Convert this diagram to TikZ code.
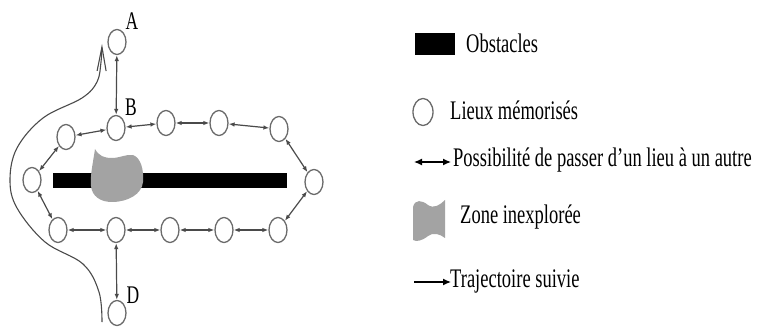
\documentclass[tikz,border=0pt]{standalone}
\usepackage{fontspec}
\setmainfont{Liberation Serif}
\usetikzlibrary{shapes.geometric,arrows.meta}
\newcommand{\vstretch}[1]{\scalebox{1}[1.45]{#1}}
\definecolor{nodegray}{HTML}{6A6A6A}
\definecolor{linegray}{HTML}{4A4A4A}
\definecolor{blobgray}{HTML}{A3A3A3}
\tikzset{
  place/.style={ellipse,draw=nodegray,line width=1.3pt,fill=white,minimum width=18pt,minimum height=25pt,inner sep=0pt},
  link/.style={draw=linegray,line width=1.2pt,{Latex[length=6pt,width=4.5pt]}-{Latex[length=6pt,width=4.5pt]}},
  lbl/.style={font=\fontsize{17.5}{19}\selectfont,text=black,inner sep=0pt},
  legtext/.style={font=\fontsize{18.5}{20}\selectfont,text=black,inner sep=0pt,anchor=west},
  traj/.style={draw=linegray,line width=1.1pt,-{Straight Barb[length=24pt,width=9pt,line width=1.1pt]}}
}
\begin{document}
\begin{tikzpicture}[x=1pt,y=-1pt]
\useasboundingbox (0,0) rectangle (758,331);
% obstacle and unexplored zone
\fill[black] (53,173) rectangle (287,188);
\fill[blobgray] (95,149) .. controls (99,156) and (104,158) .. (112,158)
  .. controls (120,158) and (126,154) .. (133,155)
  .. controls (141,158) and (144,170) .. (143,182)
  .. controls (142,194) and (128,202) .. (112,202)
  .. controls (100,202) and (92,196) .. (91,186)
  .. controls (90,175) and (93,163) .. (95,149) -- cycle;
% places
\node[place] (A) at (117,42) {};
\node[place] (B) at (116,128) {};
\node[place] (t2) at (166,123) {};
\node[place] (t3) at (219,123) {};
\node[place] (t4) at (279,129) {};
\node[place] (ul) at (66,137) {};
\node[place] (L) at (32,180) {};
\node[place] (R) at (314,182) {};
\node[place] (b1) at (58,230) {};
\node[place] (b2) at (116,230) {};
\node[place] (b3) at (170,230) {};
\node[place] (b4) at (224,230) {};
\node[place] (b5) at (278,230) {};
\node[place] (D) at (117,313) {};
% labels
\node[lbl] (la) at (132,21) {\vstretch{A}};
\node[lbl] (lb) at (131,107) {\vstretch{B}};
\node[lbl] (ld) at (133,295) {\vstretch{D}};
% links
\draw[link] (A) -- (B);
\draw[link] (ul) -- (B);
\draw[link] (B) -- (t2);
\draw[link] (t2) -- (t3);
\draw[link] (t3) -- (t4);
\draw[link] (t4) -- (R);
\draw[link] (R) -- (b5);
\draw[link] (b5) -- (b4);
\draw[link] (b4) -- (b3);
\draw[link] (b3) -- (b2);
\draw[link] (b2) -- (b1);
\draw[link] (b1) -- (L);
\draw[link] (L) -- (ul);
\draw[link] (b2) -- (D);
% trajectory
\draw[traj] plot[smooth,tension=0.6] coordinates {(102,322) (99,292) (83,264) (45,242) (17,208) (10,180) (17,148) (43,118) (82,98) (97,82) (101,62) (102,44)};
% legend
\fill[black] (415,33) rectangle (455,55);
\node[legtext] (tobs) at (466,43) {\vstretch{Obstacles}};
\node[place,minimum width=20pt,minimum height=27pt] (lcirc) at (423,112) {};
\node[legtext] (tlieu) at (450,110) {\vstretch{Lieux mémorisés}};
\coordinate (la1) at (414,162);
\coordinate (la2) at (451,162);
\draw[line width=1.3pt,{Latex[length=8pt,width=7pt]}-{Latex[length=8pt,width=7pt]}] (la1) -- (la2);
\node[legtext] (tposs) at (453,160) {\vstretch{Possibilité de passer d’un lieu à un autre}};
\fill[blobgray] (413,207) .. controls (415,199) and (422,200) .. (428,205)
  .. controls (434,209) and (440,205) .. (445,200) -- (445,238)
  .. controls (440,234) and (433,232) .. (428,236)
  .. controls (422,241) and (416,242) .. (413,240) -- cycle;
\node[legtext] (tzone) at (460,217) {\vstretch{Zone inexplorée}};
\coordinate (lt1) at (414,282);
\coordinate (lt2) at (451,282);
\draw[line width=1.3pt,-{Latex[length=8pt,width=7pt]}] (lt1) -- (lt2);
\node[legtext] (ttraj) at (450,281) {\vstretch{Trajectoire suivie}};
\end{tikzpicture}
\end{document}
